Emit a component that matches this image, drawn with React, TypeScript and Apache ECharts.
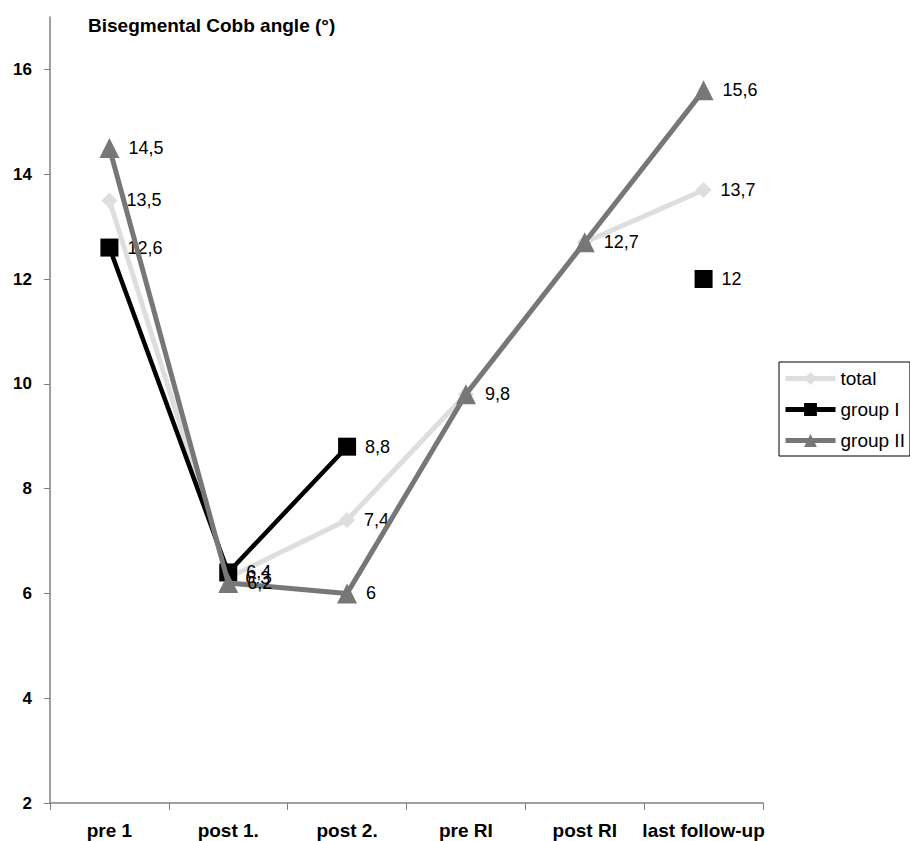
import React, { useEffect, useRef } from "react";
import * as echarts from "echarts";

const categories = ["pre 1", "post 1.", "post 2.", "pre RI", "post RI", "last follow-up"];
const totalValues = [13.5, 6.3, 7.4, 9.8, 12.7, 13.7];
const groupIValues: (number | null)[] = [12.6, 6.4, 8.8, null, null, 12];
const groupIIValues = [14.5, 6.2, 6, 9.8, 12.7, 15.6];
const yTicks = [2, 4, 6, 8, 10, 12, 14, 16];

const FONT = "'Liberation Sans', Arial, sans-serif";

export default function App() {
  const ref = useRef<HTMLDivElement>(null);
  useEffect(() => {
    if (!ref.current) return;
    const chart = echarts.init(ref.current, null, { renderer: "svg" });
    const fmt = (p: any) => String(p.value).replace(".", ",");
    const label = {
      show: true,
      position: "right" as const,
      distance: 9,
      color: "#000",
      fontSize: 18,
      fontFamily: FONT,
      formatter: fmt,
    };
    // where total coincides exactly with group II, only one label is visible
    const totalData = totalValues.map((v, i) => ({
      value: v,
      label: { show: v !== groupIIValues[i] },
    }));
    chart.setOption({
      animation: false,
      backgroundColor: "#fff",
      title: {
        text: "Bisegmental Cobb angle (°)",
        left: 83,
        top: 11,
        textStyle: { fontSize: 19, fontWeight: "bold", color: "#000", fontFamily: FONT },
      },
      legend: {
        orient: "vertical",
        left: 779,
        top: 362,
        borderColor: "#000",
        borderWidth: 1,
        padding: [7, 5, 6, 4],
        itemWidth: 50,
        itemHeight: 16,
        itemGap: 12,
        lineStyle: { width: 5 },
        textStyle: { fontSize: 19, color: "#000", fontFamily: FONT },
        data: ["total", "group I", "group II"],
      },
      grid: { left: 50, right: 147, top: 17, bottom: 38, containLabel: false },
      xAxis: {
        type: "category",
        data: categories,
        boundaryGap: true,
        axisLine: { lineStyle: { color: "#808080", width: 1.5 } },
        axisTick: { show: true, length: 7, lineStyle: { color: "#808080" } },
        axisLabel: {
          color: "#000",
          fontSize: 19,
          fontWeight: "bold",
          fontFamily: FONT,
          margin: 18,
          interval: 0,
        },
        splitLine: { show: false },
      },
      yAxis: {
        type: "value",
        min: 2,
        max: 17,
        interval: 2,
        axisLine: { show: true, lineStyle: { color: "#808080", width: 1.5 } },
        axisTick: { show: true, length: 6, lineStyle: { color: "#808080" } },
        axisLabel: {
          color: "#000",
          fontSize: 17,
          fontWeight: "bold",
          fontFamily: FONT,
          margin: 18,
          showMaxLabel: false,
          formatter: (v: number) => (yTicks.includes(v) ? String(v) : ""),
        },
        splitLine: { show: false },
      },
      series: [
        {
          name: "total",
          type: "line",
          data: totalData,
          color: "#dedede",
          lineStyle: { width: 5, color: "#dedede" },
          symbol: "diamond",
          symbolSize: 16,
          itemStyle: { color: "#dedede" },
          label,
          z: 2,
        },
        {
          name: "group I",
          type: "line",
          data: groupIValues,
          connectNulls: false,
          color: "#000",
          lineStyle: { width: 4.5, color: "#000" },
          symbol: "rect",
          symbolSize: 18,
          itemStyle: { color: "#000" },
          label,
          z: 3,
        },
        {
          name: "group II",
          type: "line",
          data: groupIIValues,
          color: "#777777",
          lineStyle: { width: 5, color: "#777777" },
          symbol: "triangle",
          symbolSize: 20,
          itemStyle: { color: "#777777" },
          label,
          z: 4,
        },
      ],
    });
    return () => chart.dispose();
  }, []);
  return (
    <div
      ref={ref}
      style={{ position: "fixed", top: 0, left: 0, width: 910, height: 841 }}
    />
  );
}
